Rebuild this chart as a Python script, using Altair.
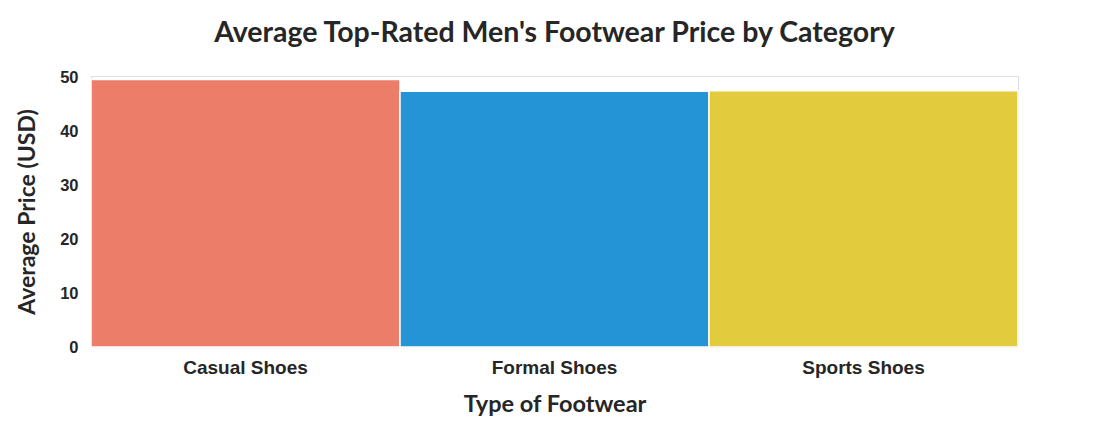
import altair as alt
import pandas as pd

categories = ["Casual Shoes", "Formal Shoes", "Sports Shoes"]
avg_price = [49.6, 47.4, 47.5]
colors = ["#EB7D69", "#2594D6", "#E2CC3D"]
y_ticks = [0, 10, 20, 30, 40, 50]

df = pd.DataFrame({"category": categories, "price": avg_price})

chart = alt.Chart(df).mark_bar(stroke="white", strokeWidth=1.5).encode(
    x=alt.X("category:N", sort=categories,
            scale=alt.Scale(paddingInner=0, paddingOuter=0),
            axis=alt.Axis(title="Type of Footwear", labelAngle=0, ticks=False, domain=False,
                          labelFont="Liberation Sans", labelFontSize=19, labelFontWeight="bold",
                          labelColor="#262626", labelPadding=11,
                          titleFont="Lato", titleFontSize=23.5, titleFontWeight="bold",
                          titleColor="#262626", titlePadding=15)),
    y=alt.Y("price:Q", scale=alt.Scale(domain=[0, 50.25], nice=False),
            axis=alt.Axis(title="Average Price (USD)", values=y_ticks, ticks=False, domain=False,
                          grid=False,
                          labelFont="Liberation Sans", labelFontSize=16.5, labelFontWeight="bold",
                          labelColor="#262626", labelPadding=13,
                          titleFont="Lato", titleFontSize=23, titleFontWeight="bold",
                          titleColor="#262626", titlePadding=20)),
    color=alt.Color("category:N", scale=alt.Scale(domain=categories, range=colors), legend=None),
).properties(
    width=927,
    height=271,
    title=alt.TitleParams("Average Top-Rated Men's Footwear Price by Category",
                          font="Lato", fontSize=28.5, fontWeight="bold", color="#262626",
                          anchor="middle", offset=22),
    padding={"left": 91, "top": 76, "right": 77, "bottom": 76},
    autosize=alt.AutoSizeParams(type="none"),
).configure_view(
    stroke="#b8b8b8", strokeWidth=2
).configure(background="white")

chart.save("out.html", embed_options={"renderer": "svg", "actions": False})
